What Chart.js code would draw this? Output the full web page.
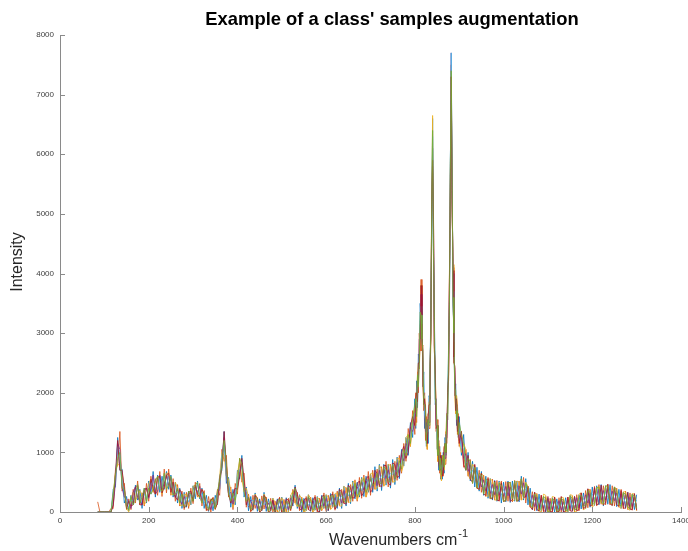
<!DOCTYPE html>
<html>
<head>
<meta charset="utf-8">
<script src="https://cdn.jsdelivr.net/npm/chart.js@4.4.1/dist/chart.umd.min.js"></script>
<style>
html,body{margin:0;padding:0;background:#fff;}
canvas{display:block;}
</style>
</head>
<body>
<canvas id="c" width="688" height="551"></canvas>
<script>
// ---- Data ----
const chartTitle = "Example of a class' samples augmentation";
const xAxisLabel = "Wavenumbers cm";
const xAxisSup = "-1";
const yAxisLabel = "Intensity";
const xTicks = [0, 200, 400, 600, 800, 1000, 1200, 1400];
const yTicks = [0, 1000, 2000, 3000, 4000, 5000, 6000, 7000, 8000];

const wavenumbers = [
85,90,95,100,105,110,115,120,125,130,135,140,145,150,155,160,165,170,175,180,185,190,195,200,205,210,215,220,225,230,235,240,245,250,255,260,265,270,275,280,285,290,295,300,305,310,315,320,325,330,335,340,345,350,355,360,365,370,375,380,385,390,395,400,405,410,415,420,425,430,435,440,445,450,455,460,465,470,475,480,485,490,495,500,505,510,515,520,525,530,535,540,545,550,555,560,565,570,575,580,585,590,595,600,605,610,615,620,625,630,635,640,645,650,655,660,665,670,675,680,685,690,695,700,705,710,715,720,725,730,735,740,745,750,755,760,765,770,775,780,785,790,795,
800,802,804,806,808,810,812,814,816,818,820,822,824,826,828,830,832,834,836,838,840,842,844,846,848,850,852,854,856,858,860,862,864,866,868,870,872,874,876,878,880,882,884,886,888,890,892,894,896,898,900,
905,910,915,920,925,930,935,940,945,950,955,960,965,970,975,980,985,990,995,1000,1005,1010,1015,1020,1025,1030,1035,1040,1045,1050,1055,1060,1065,1070,1075,1080,1085,1090,1095,1100,1105,1110,1115,1120,1125,1130,1135,1140,1145,1150,1155,1160,1165,1170,1175,1180,1185,1190,1195,1200,1205,1210,1215,1220,1225,1230,1235,1240,1245,1250,1255,1260,1265,1270,1275,1280,1285,1290,1295,1300
];

const sampleBlue = [
0,0,0,0,0,0,0,380,420,1250,
700,720,150,260,20,280,120,450,200,380,
60,400,150,520,300,680,250,620,330,600,
380,680,380,620,250,500,150,400,60,330,
80,350,120,440,220,520,220,400,60,280,
10,220,20,280,120,620,700,1350,480,580,
80,380,120,700,550,950,250,420,20,260,
30,320,10,220,20,330,10,220,10,230,
0,220,10,250,0,240,0,280,100,450,
60,290,0,230,20,290,10,240,30,260,
0,280,60,290,20,310,80,300,60,400,
60,430,100,480,140,520,220,500,250,580,
260,600,330,640,330,760,350,800,360,800,
450,800,400,880,460,920,560,1050,770,1250,
950,1500,1250,
1900,1400,2200,1750,2650,2400,3500,3200,3600,2100,
2350,1400,1800,1100,1550,1150,1950,1900,3600,4500,
6600,4300,3400,1800,1900,1050,1350,700,1100,550,
950,550,1000,650,1250,950,1650,1550,2800,3400,
5900,6900,5800,3500,3100,1950,2150,1450,1800,1250,
1600,
950,1300,700,1000,520,850,420,750,350,680,
280,600,230,560,200,530,180,520,150,500,
170,520,160,520,180,520,170,600,200,560,
120,400,40,330,20,300,10,260,0,230,
0,240,0,220,10,230,0,240,0,280,
20,260,30,290,50,320,60,380,80,420,
110,440,120,460,100,440,130,460,110,420,
90,380,60,330,70,330,40,300,40,290
];

const sampleOrange = [
170,0,0,0,0,0,60,60,700,800,
1350,350,480,40,220,40,380,150,520,120,
320,100,480,180,600,330,560,280,680,260,
720,320,720,280,560,180,460,100,350,40,
330,60,400,140,500,250,480,100,360,20,
260,0,250,40,380,280,1050,850,950,250,
420,40,480,300,900,500,650,80,300,0,
280,60,240,0,270,50,250,0,230,0,
180,0,250,0,210,0,230,20,380,150,
330,20,250,0,260,40,250,0,280,0,
230,20,320,10,280,50,340,30,350,110,
380,140,410,160,460,180,540,180,580,230,
620,250,680,280,700,380,720,420,760,440,
850,420,800,500,850,530,950,650,1150,850,
1400,1100,1700,
1300,2000,1500,2350,2000,3000,2700,3900,2700,2800,
1700,2000,1200,1600,1050,1650,1400,2500,2900,5300,
5800,5000,2700,2400,1350,1550,850,1200,650,1000,
550,950,600,1100,800,1350,1150,2050,2200,4000,
5300,7500,5200,4100,2500,2450,1650,1950,1300,1650,
1100,
1350,750,1050,600,880,480,780,400,700,330,
620,260,580,220,550,200,530,180,520,170,
510,180,500,170,530,180,520,200,580,150,
430,80,340,20,310,10,280,0,260,0,
230,0,250,0,240,0,220,0,250,20,
270,0,290,20,320,40,360,70,380,100,
430,100,460,130,440,120,470,120,440,100,
400,80,380,50,350,40,320,30,300,30
];

const sampleYellow = [
0,0,0,0,0,0,0,300,650,800,
780,650,400,60,0,240,330,200,250,360,
300,120,180,480,550,350,300,580,600,300,
430,650,650,300,290,500,400,120,100,300,
290,100,140,430,450,260,250,380,300,50,
30,220,220,50,150,600,1000,950,600,550,
360,80,180,650,850,550,340,400,250,20,
40,300,230,0,30,300,220,0,20,230,
160,0,20,240,170,0,0,280,350,150,
90,280,230,0,20,290,230,0,40,250,
210,30,70,290,250,40,80,310,320,100,
100,430,400,160,170,500,520,200,300,560,
580,250,360,640,660,380,400,780,720,430,
500,800,780,500,510,900,900,680,800,1250,
1300,1100,1600,
1750,1450,1650,2300,2500,2400,2850,3800,3400,2150,
1800,1950,1750,1200,1050,1600,1850,1950,2900,5200,
6650,4200,2700,2350,1800,1100,850,1150,1050,600,
520,900,950,700,850,1350,1650,1550,2250,4000,
5800,6800,5100,4150,3100,1950,1650,1950,1800,1250,
1150,
1000,1150,1050,620,550,800,750,400,380,650,
600,280,260,560,520,200,200,500,480,180,
190,500,480,190,200,520,500,200,230,500,
430,90,60,320,300,20,0,300,280,0,
0,260,250,0,0,250,240,0,0,290,
280,0,10,300,320,40,60,380,370,80,
120,410,420,150,120,430,440,150,110,420,
380,90,60,340,340,50,30,310,300,20
];

const samplePurple = [
0,0,0,0,0,0,0,120,480,1150,
1050,400,250,220,180,60,330,420,250,180,
120,350,400,230,400,620,300,350,620,380,
480,600,450,580,320,250,380,200,130,260,
120,300,320,200,420,330,430,180,280,100,
180,40,180,100,320,380,850,1250,620,300,
330,130,380,420,680,820,380,320,90,200,
90,260,60,180,60,260,60,150,50,190,
10,170,60,180,10,190,40,230,180,380,
130,230,50,180,70,240,50,180,90,200,
40,230,100,230,60,250,130,240,130,330,
150,360,180,400,220,430,300,420,340,500,
370,520,420,550,430,660,440,700,470,710,
560,710,500,780,550,830,650,960,860,1150,
1050,1420,1350,
1500,1850,1700,2200,2150,2900,2900,3650,2900,2700,
1850,1850,1350,1500,1150,1550,1500,2400,3000,5000,
6100,4800,2800,2300,1450,1450,950,1100,700,900,
630,870,700,1000,900,1300,1250,1950,2350,3850,
5500,7700,5300,4000,2650,2400,1750,1850,1400,1600,
1200,
1250,900,980,680,790,560,700,470,610,420,
540,350,490,310,460,290,440,280,420,260,
430,270,420,260,450,250,440,300,490,250,
370,150,280,90,250,80,220,60,200,40,
180,40,200,30,190,30,170,40,190,60,
210,50,240,70,260,100,290,150,310,170,
360,170,380,200,360,200,390,200,350,190,
320,150,300,110,290,110,250,90,250,80
];

const sampleLightBlue = [
0,0,0,0,0,0,0,250,600,1100,
950,480,380,100,150,200,180,350,420,200,
250,300,230,400,500,430,480,380,560,400,
620,430,600,400,470,300,350,200,250,130,
250,170,300,250,400,350,300,300,150,200,
60,150,170,100,300,400,950,1150,650,450,
200,250,250,550,700,750,400,300,100,170,
200,120,170,50,180,120,170,30,170,50,
110,40,190,50,120,60,150,100,300,250,
250,100,170,50,180,110,170,50,200,70,
150,100,230,100,180,120,250,110,250,200,
270,230,310,270,350,300,430,300,470,350,
500,380,550,410,570,510,580,550,610,570,
700,570,650,630,700,670,800,800,1000,1000,
1200,1250,1500,
1650,1650,1900,2000,2350,2650,3150,3450,3150,2450,
2050,1650,1550,1300,1350,1350,1700,2150,3250,4800,
6300,4500,3100,2050,1650,1250,1150,900,900,730,
790,700,850,830,1050,1100,1450,1750,2550,3600,
5700,7700,5600,3700,2850,2150,1950,1650,1600,1400,
1400,
1100,1050,830,830,650,700,550,600,470,550,
400,470,350,430,320,410,300,390,280,380,
290,400,280,390,310,380,300,430,350,380,
230,280,140,220,110,200,80,190,70,160,
50,170,60,150,70,160,50,170,60,190,
80,170,100,190,120,230,150,280,170,300,
220,310,230,330,220,340,250,330,210,320,
180,290,160,240,150,230,120,210,120,200
];

const sampleRed = [
0,0,0,0,0,0,0,120,650,1200,
700,700,400,60,180,100,120,420,450,120,
120,380,400,250,550,400,300,580,600,320,
420,620,650,330,500,250,200,380,300,70,
100,330,350,180,450,300,250,380,300,40,
30,200,230,50,150,550,750,1350,800,300,
150,300,400,380,600,900,550,120,250,20,
50,280,230,0,30,280,220,0,30,200,
0,200,230,0,0,220,200,40,150,420,
300,50,30,200,230,40,20,200,250,20,
0,260,280,40,30,280,300,50,100,380,
330,150,130,450,400,230,250,480,520,270,
330,560,600,330,380,700,650,450,420,780,
780,480,450,820,800,580,600,1000,1100,900,
1000,1450,1600,
1450,1900,2000,1850,2500,2500,2900,3800,3300,2250,
1800,1900,1650,1200,1150,1600,1800,2000,3000,5150,
5900,4900,2800,2300,1400,1450,1250,800,700,950,
900,600,650,1050,1150,1000,1250,2000,2300,3900,
5400,7300,5250,4050,2600,2400,1700,1900,1350,1600,
1150,
1350,800,700,950,550,500,800,400,380,650,
300,280,560,230,220,520,200,190,490,180,
190,500,180,200,520,180,200,550,250,250,
430,90,40,330,40,20,280,20,10,260,
0,10,250,0,10,260,0,20,250,20,
10,260,20,40,320,60,80,390,100,120,
410,120,140,450,120,150,460,140,110,420,
120,100,360,70,60,330,50,40,310,30
];

const sampleGreen = [
0,0,0,0,0,0,0,300,620,900,
1000,400,380,80,30,260,120,200,460,150,
250,400,180,400,300,380,520,600,380,350,
650,380,450,600,280,300,400,150,300,80,
120,350,300,180,450,500,250,150,320,100,
40,180,220,60,350,520,780,1200,820,300,
180,320,200,420,900,800,350,180,250,40,
100,250,220,20,60,260,200,10,180,40,
10,150,220,30,0,180,160,50,320,400,
120,90,220,20,60,250,200,30,80,210,
30,90,270,80,60,260,280,90,130,340,
300,180,160,420,220,280,480,260,330,520,
560,330,420,580,440,480,650,480,480,760,
720,520,500,800,560,640,860,720,1050,940,
1300,1150,1550,
1800,1900,1600,2300,2100,2500,3350,3300,2900,2700,
1800,1800,1700,1150,1450,1550,1450,2400,3000,5100,
6400,4400,3250,1900,1800,1450,950,1050,700,900,
620,850,950,750,1150,1000,1600,1650,2700,3500,
5750,7400,5700,3600,3000,2050,2050,1550,1700,1300,
1500,
1300,1150,700,900,850,480,750,400,650,620,
300,550,520,220,250,500,200,480,450,180,
200,480,500,220,520,180,230,560,250,480,
400,120,80,300,260,30,60,260,230,0,
20,220,200,10,40,230,200,20,30,260,
230,30,60,260,280,90,120,360,330,120,
150,400,420,160,140,440,430,160,140,420,
350,120,100,320,300,80,60,290,270,60
];

// ---- Build chart ----
const seriesList = [
  { name: 'sample 1', values: sampleBlue,      color: '#0072BD' },
  { name: 'sample 2', values: sampleOrange,    color: '#D95319' },
  { name: 'sample 3', values: sampleYellow,    color: '#EDB120' },
  { name: 'sample 4', values: samplePurple,    color: '#7E2F8E' },
  { name: 'sample 5', values: sampleLightBlue, color: '#4DBEEE' },
  { name: 'sample 6', values: sampleRed,       color: '#A2142F' },
  { name: 'sample 7', values: sampleGreen,     color: '#77AC30' }
];
seriesList.forEach(s => {
  if (s.values.length !== wavenumbers.length) console.error(s.name + ' length ' + s.values.length + ' vs ' + wavenumbers.length);
});

const datasets = seriesList.map((s, k) => ({
  label: s.name,
  data: wavenumbers.map((w, i) => ({ x: w, y: s.values[i] })),
  borderColor: s.color,
  borderWidth: 0.8,
  pointRadius: 0,
  fill: false,
  tension: 0,
  order: seriesList.length - k
}));

const axisColor = '#8a8a8a';
const tickFont = { family: "'Liberation Sans', Arial, Helvetica, sans-serif", size: 8 };

const decorations = {
  id: 'decorations',
  afterDraw(chart) {
    const { ctx, chartArea, scales } = chart;
    const xs = scales.x, ys = scales.y;
    ctx.save();
    ctx.strokeStyle = axisColor;
    ctx.lineWidth = 1;
    ctx.beginPath();
    xTicks.forEach(v => {
      const px = Math.round(xs.getPixelForValue(v)) + 0.5;
      ctx.moveTo(px, chartArea.bottom);
      ctx.lineTo(px, chartArea.bottom - 5);
    });
    yTicks.forEach(v => {
      const py = Math.round(ys.getPixelForValue(v)) + 0.5;
      ctx.moveTo(chartArea.left, py);
      ctx.lineTo(chartArea.left + 5, py);
    });
    ctx.stroke();

    ctx.fillStyle = '#000';
    ctx.font = "bold 18.4px 'Liberation Sans', Arial, Helvetica, sans-serif";
    ctx.textAlign = 'center';
    ctx.textBaseline = 'alphabetic';
    ctx.fillText(chartTitle, 392, 25);

    ctx.fillStyle = '#262626';
    ctx.font = "16px 'Liberation Sans', Arial, Helvetica, sans-serif";
    ctx.textAlign = 'left';
    const mainW = ctx.measureText(xAxisLabel).width;
    const startX = 329;
    ctx.fillText(xAxisLabel, startX, 545);
    ctx.font = "11px 'Liberation Sans', Arial, Helvetica, sans-serif";
    ctx.fillText(xAxisSup, startX + mainW + 1, 537);

    ctx.font = "16px 'Liberation Sans', Arial, Helvetica, sans-serif";
    ctx.translate(22, 262);
    ctx.rotate(-Math.PI / 2);
    ctx.textAlign = 'center';
    ctx.fillText(yAxisLabel, 0, 0);
    ctx.restore();
  }
};

new Chart(document.getElementById('c').getContext('2d'), {
  type: 'line',
  data: { datasets },
  options: {
    responsive: false,
    animation: false,
    events: [],
    layout: { padding: { left: 0, right: 7, top: 35, bottom: 0 } },
    plugins: { legend: { display: false }, tooltip: { enabled: false }, title: { display: false } },
    scales: {
      x: {
        type: 'linear', min: 0, max: 1400,
        ticks: { stepSize: 200, font: tickFont, color: '#404040', padding: 4, maxRotation: 0, autoSkip: false, callback: v => String(v) },
        grid: { display: false, drawTicks: false },
        border: { display: true, color: axisColor, width: 1 },
        afterFit(s) { s.height = 39; s.paddingLeft = 0; s.paddingRight = 0; }
      },
      y: {
        min: 0, max: 8000,
        ticks: { stepSize: 1000, font: tickFont, color: '#404040', padding: 6, autoSkip: false, callback: v => String(v) },
        grid: { display: false, drawTicks: false },
        border: { display: true, color: axisColor, width: 1 },
        afterFit(s) { s.width = 60; s.paddingTop = 0; s.paddingBottom = 0; }
      }
    }
  },
  plugins: [decorations]
});
</script>
</body>
</html>
